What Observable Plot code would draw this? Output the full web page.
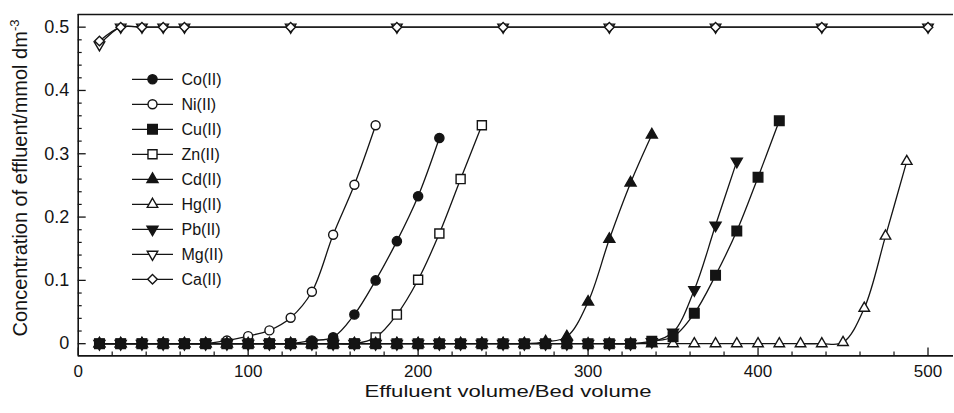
<!DOCTYPE html>
<html>
<head>
<meta charset="utf-8">
<script src="https://cdn.jsdelivr.net/npm/d3@7"></script>
<script src="https://cdn.jsdelivr.net/npm/@observablehq/plot@0.6"></script>
<style>
  html, body { margin: 0; padding: 0; background: #fff; }
  svg { display: block; }
</style>
</head>
<body>
<div id="chart"></div>
<script>
// Bed-volume grid shared by the breakthrough series (12.5 BV per sample)
const bedVolumes = [12.5, 25, 37.5, 50, 62.5, 75, 87.5, 100, 112.5, 125, 137.5, 150,
  162.5, 175, 187.5, 200, 212.5, 225, 237.5, 250, 262.5, 275, 287.5, 300, 312.5,
  325, 337.5, 350, 362.5, 375, 387.5, 400, 412.5, 425, 437.5, 450, 462.5, 475, 487.5, 500];

// Effluent concentrations (mmol dm-3), one value per grid point starting at 12.5 BV
const coConc = [0, 0, 0, 0, 0, 0, 0, 0, 0, 0, 0.005, 0.010, 0.046, 0.100, 0.162, 0.233, 0.325];
const niConc = [0, 0, 0, 0, 0, 0, 0.005, 0.012, 0.021, 0.041, 0.082, 0.172, 0.251, 0.345];
const cuConc = [0, 0, 0, 0, 0, 0, 0, 0, 0, 0, 0, 0, 0, 0, 0, 0, 0, 0, 0, 0, 0, 0, 0, 0, 0, 0,
  0.004, 0.011, 0.048, 0.108, 0.178, 0.263, 0.352];
const znConc = [0, 0, 0, 0, 0, 0, 0, 0, 0, 0, 0, 0, 0, 0.010, 0.046, 0.101, 0.174, 0.260, 0.345];
const cdConc = [0, 0, 0, 0, 0, 0, 0, 0, 0, 0, 0, 0, 0, 0, 0, 0, 0, 0, 0, 0, 0,
  0.003, 0.011, 0.066, 0.165, 0.254, 0.330];
const hgConc = [0, 0, 0, 0, 0, 0, 0, 0, 0, 0, 0, 0, 0, 0, 0, 0, 0, 0, 0, 0, 0, 0, 0, 0, 0, 0,
  0, 0, 0, 0, 0, 0, 0, 0, 0, 0.002, 0.056, 0.170, 0.288];
const pbConc = [0, 0, 0, 0, 0, 0, 0, 0, 0, 0, 0, 0, 0, 0, 0, 0, 0, 0, 0, 0, 0, 0, 0, 0, 0, 0,
  0.003, 0.018, 0.085, 0.187, 0.288];

// Alkaline-earth ions pass straight through; sampled less often
const alkalineVolumes = [12.5, 25, 37.5, 50, 62.5, 125, 187.5, 250, 312.5, 375, 437.5, 500];
const mgConc = [0.472, 0.5, 0.5, 0.5, 0.5, 0.5, 0.5, 0.5, 0.5, 0.5, 0.5, 0.5];
const caConc = [0.478, 0.5, 0.5, 0.5, 0.5, 0.5, 0.5, 0.5, 0.5, 0.5, 0.5, 0.5];

// Axis ticks
const xMajorTicks = [0, 100, 200, 300, 400, 500];
const xMinorTicks = [20, 40, 60, 80, 120, 140, 160, 180, 220, 240, 260, 280,
  320, 340, 360, 380, 420, 440, 460, 480];
const yMajorTicks = [0, 0.1, 0.2, 0.3, 0.4, 0.5];
const yMinorTicks = [0.02, 0.04, 0.06, 0.08, 0.12, 0.14, 0.16, 0.18, 0.22, 0.24, 0.26, 0.28,
  0.32, 0.34, 0.36, 0.38, 0.42, 0.44, 0.46, 0.48];

const xLabel = "Effuluent volume/Bed volume";
const yLabel = "Concentration of effluent/mmol dm";
const yLabelSup = "-3";

// Downward-pointing triangle (mirror of d3.symbolTriangle)
const symbolTriangleDown = {
  draw(context, size) {
    const y = Math.sqrt(size / (Math.sqrt(3) * 3));
    context.moveTo(0, y * 2);
    context.lineTo(-Math.sqrt(3) * y, -y);
    context.lineTo(Math.sqrt(3) * y, -y);
    context.closePath();
  }
};

const INK = "#141414";
const series = [
  {name: "Co(II)", x: bedVolumes, y: coConc, symbol: d3.symbolCircle, fill: INK, r: 4.6},
  {name: "Ni(II)", x: bedVolumes, y: niConc, symbol: d3.symbolCircle, fill: "white", r: 4.5},
  {name: "Cu(II)", x: bedVolumes, y: cuConc, symbol: d3.symbolSquare, fill: INK, r: 5.4},
  {name: "Zn(II)", x: bedVolumes, y: znConc, symbol: d3.symbolSquare, fill: "white", r: 5.1},
  {name: "Cd(II)", x: bedVolumes, y: cdConc, symbol: d3.symbolTriangle, fill: INK, r: 4.1},
  {name: "Hg(II)", x: bedVolumes, y: hgConc, symbol: d3.symbolTriangle, fill: "white", r: 3.9},
  {name: "Pb(II)", x: bedVolumes, y: pbConc, symbol: symbolTriangleDown, fill: INK, r: 4.1},
  {name: "Mg(II)", x: alkalineVolumes, y: mgConc, symbol: symbolTriangleDown, fill: "white", r: 3.9},
  {name: "Ca(II)", x: alkalineVolumes, y: caConc, symbol: d3.symbolDiamond2, fill: "white", r: 4.3}
];

// Paint order: black squares (Cu) end up on top along the zero baseline
const drawOrder = ["Mg(II)", "Ca(II)", "Hg(II)", "Zn(II)", "Ni(II)", "Co(II)", "Cd(II)", "Pb(II)", "Cu(II)"];

const seriesMarks = drawOrder.flatMap(name => {
  const s = series.find(d => d.name === name);
  const rows = s.y.map((c, i) => ({volume: s.x[i], conc: c}));
  return [
    Plot.line(rows, {x: "volume", y: "conc", curve: "catmull-rom", stroke: INK, strokeWidth: 1.3}),
    Plot.dot(rows, {x: "volume", y: "conc", symbol: () => s.symbol, r: s.r, fill: s.fill, stroke: INK, strokeWidth: 1.4})
  ];
});

const fontFamily = "'Liberation Sans', Arial, Helvetica, sans-serif";

const chart = Plot.plot({
  width: 954,
  height: 413,
  marginLeft: 77.7,
  marginRight: 1,
  marginTop: 14,
  marginBottom: 57.6,
  x: {domain: [0, 515]},
  y: {domain: [-0.0193, 0.52]},
  style: {fontFamily, fontSize: "18px", color: INK, background: "white"},
  marks: [
    // frame: left axis, bottom axis, top border
    Plot.ruleX([0], {stroke: INK, strokeWidth: 1.6}),
    Plot.ruleY([-0.0193], {stroke: INK, strokeWidth: 1.6}),
    Plot.ruleY([0.52], {stroke: INK, strokeWidth: 1.4}),
    // inward ticks
    Plot.axisX({ticks: xMajorTicks, tickSize: -8, text: null, label: null, strokeWidth: 1.3}),
    Plot.axisX({ticks: xMinorTicks, tickSize: -4, text: null, label: null, strokeWidth: 1.2}),
    Plot.axisY({ticks: yMajorTicks, tickSize: -8, text: null, label: null, strokeWidth: 1.3}),
    Plot.axisY({ticks: yMinorTicks, tickSize: -4, text: null, label: null, strokeWidth: 1.2}),
    // tick labels
    Plot.axisX({ticks: xMajorTicks, tickSize: 0, tickPadding: 9.5, label: null, fontSize: 17}),
    Plot.axisY({ticks: yMajorTicks, tickSize: 0, tickPadding: 9, label: null, fontSize: 18,
      tickFormat: d => d === 0 ? "0" : d3.format(".1f")(d)}),
    ...seriesMarks
  ]
});

// Legend and axis titles
const svg = d3.select(chart);
const legend = svg.append("g")
  .attr("font-family", fontFamily)
  .attr("font-size", 16)
  .attr("text-anchor", "start");
series.forEach((s, i) => {
  const y = 79.3 + i * 25;
  const row = legend.append("g").attr("transform", `translate(0,${y})`);
  row.append("line").attr("x1", 132).attr("x2", 173).attr("stroke", INK).attr("stroke-width", 1.3);
  row.append("path")
    .attr("transform", "translate(152.5,0)")
    .attr("d", d3.symbol(s.symbol, Math.PI * s.r * s.r)())
    .attr("fill", s.fill).attr("stroke", INK).attr("stroke-width", 1.4);
  row.append("text").attr("x", 181.5).attr("dy", "0.35em").attr("fill", INK).text(s.name);
});

svg.append("text")
  .attr("x", 508).attr("y", 396.5)
  .attr("text-anchor", "middle")
  .attr("font-family", fontFamily).attr("font-size", 17).attr("fill", INK)
  .attr("textLength", 287).attr("lengthAdjust", "spacingAndGlyphs")
  .text(xLabel);

const yTitle = svg.append("text")
  .attr("transform", "translate(27,178) rotate(-90)")
  .attr("text-anchor", "middle")
  .attr("font-family", fontFamily).attr("font-size", 20).attr("fill", INK);
yTitle.append("tspan").text(yLabel);
yTitle.append("tspan").attr("font-size", 13).attr("dy", -8).text(yLabelSup);

document.getElementById("chart").appendChild(chart);
</script>
</body>
</html>
